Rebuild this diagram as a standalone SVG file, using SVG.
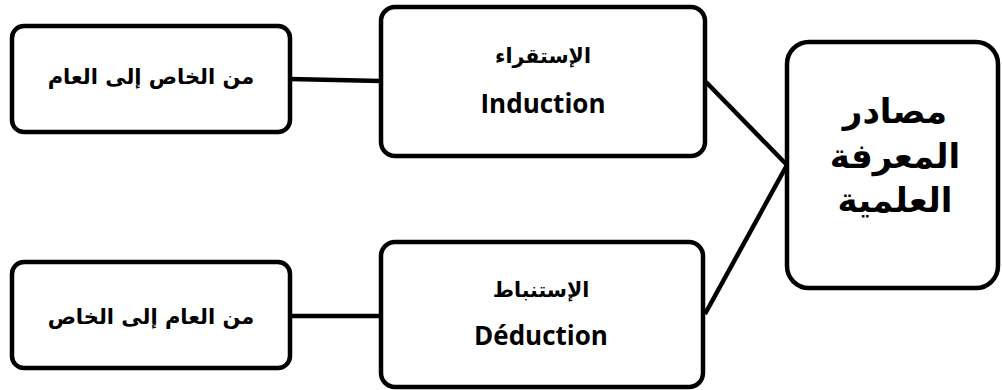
<svg xmlns="http://www.w3.org/2000/svg" width="1002" height="390" viewBox="0 0 1002 390">
<style>
.box{fill:#fff;stroke:#000;stroke-width:4.5}
.ln{stroke:#000;stroke-width:4.5;fill:none}
.ar{font-family:"DejaVu Sans","Noto Sans",sans-serif;font-weight:bold;fill:#000;text-anchor:middle}
.lat{font-family:"Open Sans","Liberation Sans",sans-serif;font-weight:bold;fill:#000;text-anchor:middle}
</style>
<rect width="1002" height="390" fill="#fff"/>
<g id="connectors">
<line class="ln" x1="290" y1="79" x2="381" y2="81"/>
<line class="ln" x1="290" y1="316" x2="381" y2="316"/>
<line class="ln" x1="706" y1="82" x2="787" y2="165"/>
<line class="ln" x1="787" y1="165" x2="705" y2="314"/>
</g>
<g id="node-general">
<rect class="box" x="12" y="26" width="278" height="106" rx="12"/>
<text class="ar" x="151" y="84" font-size="21" direction="rtl">من الخاص إلى العام</text>
</g>
<g id="node-induction">
<rect class="box" x="381" y="7" width="324" height="149" rx="14"/>
<text class="ar" x="543" y="63" font-size="20.5" direction="rtl">الإستقراء</text>
<text class="lat" x="543" y="113" font-size="26">Induction</text>
</g>
<g id="node-sources">
<rect class="box" x="787" y="42" width="211" height="246" rx="22"/>
<text class="ar" x="895" y="123" font-size="34" direction="rtl">مصادر</text>
<text class="ar" x="895" y="168" font-size="34" direction="rtl">المعرفة</text>
<text class="ar" x="895" y="212" font-size="34" direction="rtl">العلمية</text>
</g>
<g id="node-specific">
<rect class="box" x="12" y="262" width="278" height="106" rx="12"/>
<text class="ar" x="151" y="324" font-size="21" direction="rtl">من العام إلى الخاص</text>
</g>
<g id="node-deduction">
<rect class="box" x="381" y="242" width="322" height="145" rx="14"/>
<text class="ar" x="541" y="297" font-size="20.5" direction="rtl">الإستنباط</text>
<text class="lat" x="541" y="345" font-size="26">Déduction</text>
</g>
</svg>
